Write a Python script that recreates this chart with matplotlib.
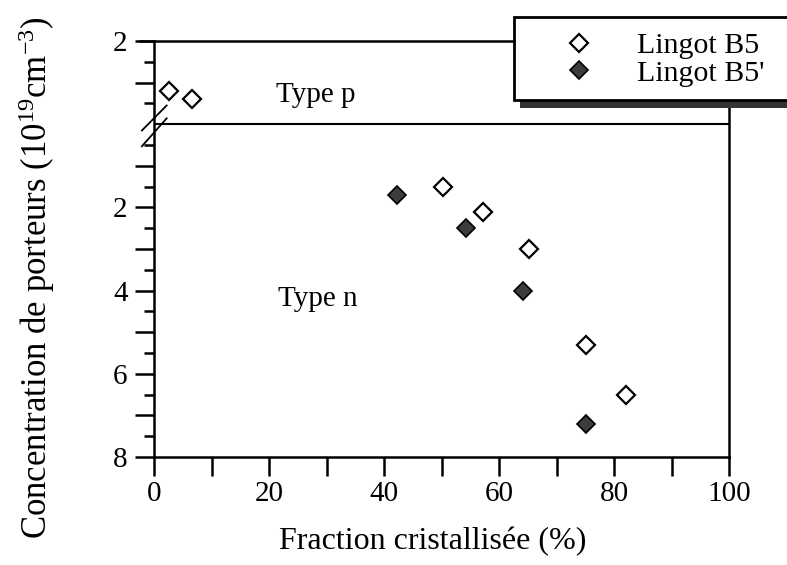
import matplotlib
matplotlib.use('Agg')
import matplotlib.pyplot as plt
from matplotlib.patches import Rectangle
from matplotlib.lines import Line2D

plt.rcParams['font.family'] = ['Liberation Serif', 'DejaVu Serif']
plt.rcParams['mathtext.fontset'] = 'custom'
plt.rcParams['mathtext.rm'] = 'Liberation Serif'
plt.rcParams['mathtext.it'] = 'Liberation Serif:italic'

# Lingot B5 (open diamonds): p-type points then n-type points
b5_p_x = [2.6, 6.6]
b5_p_conc = [0.8, 0.6]
b5_n_x = [50.3, 57.2, 65.2, 75.1, 82.1]
b5_n_conc = [1.5, 2.1, 3.0, 5.3, 6.5]

# Lingot B5' (filled diamonds), all n-type
b5b_n_x = [42.3, 54.3, 64.2, 75.1]
b5b_n_conc = [1.7, 2.5, 4.0, 7.2]

ytick_pos = [-2, 2, 4, 6, 8]
ytick_lab = ['2', '2', '4', '6', '8']
xtick_pos = [0, 20, 40, 60, 80, 100]

W, H = 787, 565
fig = plt.figure(figsize=(W / 100, H / 100), dpi=100)


def px(x, y):
    # figure pixel (from top-left) -> figure fraction
    return x / W, 1 - y / H


ax = fig.add_axes([154 / W, (H - 457) / H, (729 - 154) / W, (457 - 41) / H])

ax.set_xlim(0, 100)
ax.set_ylim(8, -2)   # p-type plotted above the break as negative values

ax.spines['top'].set_visible(False)
for s in ['left', 'bottom', 'right']:
    ax.spines[s].set_linewidth(1.8)
ax.spines['right'].set_bounds(-0.38, 8)

MS = 9.5
# p-type (above break): stored as positive concentration, drawn upward
ax.plot(b5_p_x, [-c for c in b5_p_conc], 'D', ms=MS, mfc='white', mec='black',
        mew=1.6, clip_on=False)
l1, = ax.plot(b5_n_x, b5_n_conc, 'D', ms=MS, mfc='white', mec='black',
              mew=1.6, label='Lingot B5')
l2, = ax.plot(b5b_n_x, b5b_n_conc, 'D', ms=MS, mfc='#3c3c3c', mec='black',
              mew=1.2, label="Lingot B5'")

ax.axhline(0, color='black', lw=1.5)

# axis break marks
ax.plot([-2.1, 2.2], [0.15, -0.45], color='black', lw=1.3, clip_on=False)
ax.plot([-2.1, 2.2], [0.53, -0.14], color='black', lw=1.3, clip_on=False)

ax.set_yticks(ytick_pos)
ax.set_yticklabels(ytick_lab)
ax.set_yticks([-1.5, -1, -0.5, 0.5, 1, 1.5, 3, 5, 7] + [2.5, 3.5, 4.5, 5.5, 6.5, 7.5], minor=True)
ax.set_xticks(xtick_pos)
ax.set_xticks([10, 30, 50, 70, 90], minor=True)

ax.tick_params(axis='y', which='major', direction='out', length=14, width=1.8,
               labelsize=21, pad=5)
ax.tick_params(axis='y', which='minor', direction='out', length=7, width=1.8)
ax.tick_params(axis='x', which='both', direction='out', length=14, width=1.8,
               labelsize=21, pad=3)
# make whole-number minor ticks long
for t, v in zip(ax.yaxis.get_minor_ticks(), ax.get_yticks(minor=True)):
    if float(v).is_integer():
        t.tick1line.set_markersize(14)

ax.text(21.2, -0.7, 'Type p', fontsize=21, ha='left', va='center')
ax.text(21.5, 4.2, 'Type n', fontsize=21, ha='left', va='center')

# top border line running into the legend box
x0, y0 = px(140, 41)
x1, _ = px(514, 41)
fig.add_artist(Line2D([x0, x1], [y0, y0], color='black', lw=1.8))

# legend box with shadow
sx, sy = px(520, 108)
fig.add_artist(Rectangle((sx, sy), (790 - 520) / W, 90 / H, facecolor='#333333',
                         edgecolor='none'))
bx, by = px(514, 100)
fig.add_artist(Rectangle((bx, by), (790 - 514) / W, 83 / H, facecolor='white',
                         edgecolor='black', lw=2))

fig.legend(handles=[l1, l2], loc='center left', bbox_to_anchor=px(564, 59.5),
           frameon=False, fontsize=21.5, numpoints=1, handlelength=1.0,
           handletextpad=1.45, borderpad=0, borderaxespad=0, labelspacing=0.03)

fig.text(*px(433, 542), 'Fraction cristallisée (%)', fontsize=23,
         ha='center', va='center')
fig.text(*px(37, 278), 'Concentration de porteurs (10$^{19}$cm$^{-3}$)',
         fontsize=25, ha='center', va='center', rotation=90)

fig.savefig('out.png', dpi=100)
